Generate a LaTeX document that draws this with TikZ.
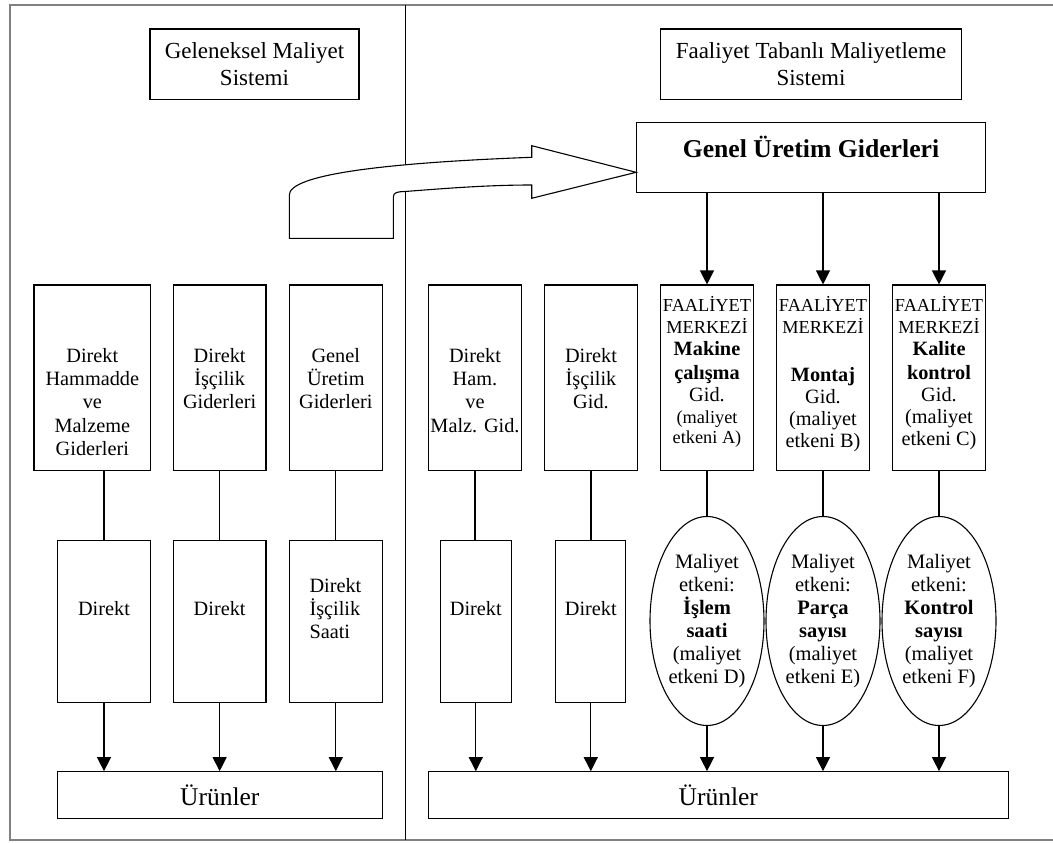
\documentclass[tikz,border=0pt]{standalone}
\usepackage{fontspec}
\setmainfont{Liberation Serif}
\usetikzlibrary{arrows.meta,shapes.geometric}

\tikzset{
  kutu/.style={draw, line width=1.1pt, inner sep=0pt},
  yazi/.style={align=center, inner sep=0pt, font=\fontsize{20.3}{23.4}\selectfont},
  fyazi/.style={align=center, inner sep=0pt, font=\fontsize{20.3}{22}\selectfont},
  elips/.style={draw, ellipse, line width=1.1pt, inner sep=0pt, minimum width=114, minimum height=209,
    align=center, font=\fontsize{20.5}{23}\selectfont},
  baslik/.style={kutu, minimum height=70.3, align=center, font=\fontsize{23}{26.7}\selectfont},
  urun/.style={kutu, minimum height=46.6, font=\fontsize{25.5}{30}\selectfont},
  ok/.style={-{Triangle[length=14pt,width=14pt]}, line width=1.1pt},
  cizgi/.style={line width=1.1pt}
}
\newcommand{\kucuk}{\fontsize{18.3}{21.7}\selectfont}

\begin{document}
\begin{tikzpicture}[x=1pt,y=-1pt]
\useasboundingbox (0,0) rectangle (1053,843);
% cerceve ve ayirici cizgi
\draw[gray, line width=2.2pt] (1060,5) -- (10,5) -- (10,840) -- (1060,840);
\draw[cizgi] (405.7,5) -- (405.7,840);

% basliklar
\node[baslik, minimum width=209] (geleneksel) at (254.5,64.2) {Geleneksel Maliyet\\Sistemi};
\node[baslik, minimum width=301.3] (faaliyet) at (811,64.2) {Faaliyet Tabanlı Maliyetleme\\Sistemi};
\node[kutu, minimum width=348.7, minimum height=70.4, text depth=21pt,
  font=\bfseries\fontsize{25.7}{30}\selectfont] (gug) at (811,157.5) {Genel Üretim Giderleri};

% buyuk ok
\draw[cizgi, fill=white] (289.3,238.3) -- (289.3,195)
  .. controls (289.3,175) and (380,163) .. (531.7,157.3) -- (531.7,145.7)
  -- (gug.west |- 0,172.3) -- (531.7,198.3) -- (531.7,185)
  .. controls (490,185) and (450,188) .. (405,191.5)
  .. controls (398,191.7) and (393.3,192) .. (393.3,197.3) -- (393.3,238.3) -- cycle;

% geleneksel sistem
\node[kutu, minimum width=116.7, minimum height=185.7] (hm) at (92.35,377.85) {};
\node[yazi, anchor=north] (hm-t) at (92.35,347.8) {Direkt\\Hammadde\\ve\\Malzeme\\Giderleri};
\node[kutu, minimum width=92.7, minimum height=185.7] (is) at (219.65,377.85) {};
\node[yazi, anchor=north] (is-t) at (219.65,347.8) {Direkt\\İşçilik\\Giderleri};
\node[kutu, minimum width=93, minimum height=185.7] (gu) at (335.8,377.85) {};
\node[yazi, anchor=north] (gu-t) at (335.8,347.8) {Genel\\Üretim\\Giderleri};

\node[kutu, minimum width=93.4, minimum height=161.6] (hmd) at (104,621.5) {};
\node[yazi, anchor=base] (hmd-t) at (104,615) {Direkt};
\node[kutu, minimum width=92.7, minimum height=161.6] (isd) at (219.65,621.5) {};
\node[yazi, anchor=base] (isd-t) at (219.65,615) {Direkt};
\node[kutu, minimum width=93, minimum height=161.6] (gus) at (335.8,621.5) {};
\node[yazi, align=left, anchor=north west] (gus-t) at (309.3,577.8) {Direkt\\İşçilik\\Saati};

\node[urun, minimum width=325] (urun1) at (219.8,795) {Ürünler};

\draw[cizgi] (hm.south -| hmd.north) -- (hmd.north);
\draw[cizgi] (is.south) -- (isd.north);
\draw[cizgi] (gu.south) -- (gus.north);
\draw[ok] (hmd.south) -- (hmd.south |- urun1.north);
\draw[ok] (isd.south) -- (isd.south |- urun1.north);
\draw[ok] (gus.south) -- (gus.south |- urun1.north);

% faaliyet tabanli sistem
\node[kutu, minimum width=93.4, minimum height=185.7] (ham) at (475,377.85) {};
\node[yazi, anchor=north] (ham-t) at (475,347.8) {Direkt\\Ham.\\ve\\Malz. Gid.};
\node[kutu, minimum width=93, minimum height=185.7] (isc) at (591,377.85) {};
\node[yazi, anchor=north] (isc-t) at (591,347.8) {Direkt\\İşçilik\\Gid.};

\node[kutu, minimum width=93.2, minimum height=185.7] (mak) at (707,377.85) {};
\node[fyazi, anchor=north] (mak-t) at (707,296.5) {{\kucuk FAALİYET}\\{\kucuk MERKEZİ}\\\textbf{Makine}\\[2pt]
  \textbf{çalışma}\\Gid.\\{\kucuk (maliyet}\\[-2pt]{\kucuk etkeni A)}};
\node[kutu, minimum width=93.2, minimum height=185.7] (mon) at (823,377.85) {};
\node[fyazi, anchor=north] (mon-t) at (823,296.5) {{\kucuk FAALİYET}\\{\kucuk MERKEZİ}\\\\[4pt]
  \textbf{Montaj}\\Gid.\\(maliyet\\etkeni B)};
\node[kutu, minimum width=93.2, minimum height=185.7] (kal) at (939,377.85) {};
\node[fyazi, anchor=north] (kal-t) at (939,296.5) {{\kucuk FAALİYET}\\{\kucuk MERKEZİ}\\\textbf{Kalite}\\[2pt]
  \textbf{kontrol}\\Gid.\\(maliyet\\etkeni C)};

\node[kutu, minimum width=71, minimum height=162] (dh) at (475.8,621.2) {};
\node[yazi, anchor=base] (dh-t) at (475.8,615) {Direkt};
\node[kutu, minimum width=70, minimum height=162] (di) at (590.8,621.2) {};
\node[yazi, anchor=base] (di-t) at (590.8,615) {Direkt};

\node[elips] (e1) at (707,621) {Maliyet\\etkeni:\\\textbf{İşlem}\\\textbf{saati}\\(maliyet\\etkeni D)};
\node[elips] (e2) at (823,621) {Maliyet\\etkeni:\\\textbf{Parça}\\\textbf{sayısı}\\(maliyet\\etkeni E)};
\node[elips] (e3) at (939,621) {Maliyet\\etkeni:\\\textbf{Kontrol}\\\textbf{sayısı}\\(maliyet\\etkeni F)};

\node[urun, minimum width=580] (urun2) at (718.3,795) {Ürünler};

\draw[ok] (gug.south -| mak.north) -- (mak.north);
\draw[ok] (gug.south -| mon.north) -- (mon.north);
\draw[ok] (gug.south -| kal.north) -- (kal.north);
\draw[cizgi] (ham.south) -- (ham.south |- dh.north);
\draw[cizgi] (isc.south) -- (isc.south |- di.north);
\draw[cizgi] (mak.south) -- (e1.north);
\draw[cizgi] (mon.south) -- (e2.north);
\draw[cizgi] (kal.south) -- (e3.north);
\draw[ok] (dh.south) -- (dh.south |- urun2.north);
\draw[ok] (di.south) -- (di.south |- urun2.north);
\draw[ok] (e1.south) -- (e1.south |- urun2.north);
\draw[ok] (e2.south) -- (e2.south |- urun2.north);
\draw[ok] (e3.south) -- (e3.south |- urun2.north);
\end{tikzpicture}
\end{document}
